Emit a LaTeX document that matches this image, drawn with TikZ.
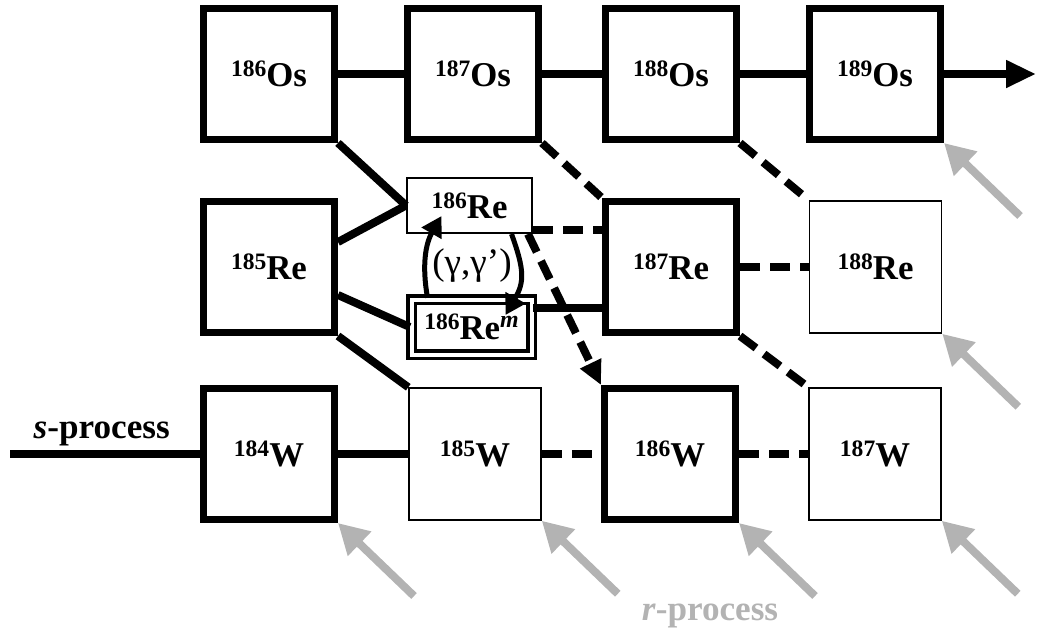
\documentclass[tikz,border=0pt]{standalone}
\usepackage{fontspec}
\setmainfont{Liberation Serif}
\usepackage{tikz}
\usetikzlibrary{calc, arrows.meta}
\definecolor{nuGray}{RGB}{179, 179, 179}
\newcommand{\iso}[2]{\raisebox{2.8pt}{\fontsize{6.7}{7}\selectfont #1}#2}
\tikzset{
    base/.style={
        font=\fontsize{9.9}{11.8}\selectfont\bfseries,
        align=center,
        inner sep=0pt
    },
    stable/.style={
        base,
        rectangle,
        draw=black,
        line width=0.07cm,
        fill=white,
        minimum size=1.31cm
    },
    unstable/.style={
        base,
        rectangle,
        draw=black,
        line width=0.015cm,
        fill=white,
        minimum size=1.32cm
    },
    level/.style={
        base,
        rectangle,
        draw=black,
        line width=0.02cm,
        fill=white,
        minimum width=1.25cm,
        minimum height=0.55cm
    },
    isomer/.style={
        base,
        rectangle,
        draw=black,
        line width=0.035cm,
        double=white,
        double distance=0.04cm,
        fill=white,
        minimum width=1.20cm,
        minimum height=0.55cm
    },
    flow/.style={
        line width=0.08cm,
        color=black
    },
    branch/.style={
        flow,
        dash pattern=on 0.2cm off 0.1cm
    },
    rflow/.style={
        -{Triangle[length=0.3cm, width=0.32cm]},
        line width=0.08cm,
        color=nuGray
    },
    excite/.style={
        -{Triangle[length=0.2cm, width=0.22cm]},
        line width=0.05cm
    },
    proclabel/.style={
        font=\fontsize{10}{12}\selectfont\bfseries,
        inner sep=0pt
    }
}

\begin{document}
\begin{tikzpicture}
  \useasboundingbox (0,0) rectangle (10.37,6.34);

  % Os row
  \node[stable] (Os186) at (2.69,5.60) {\iso{186}{Os}};
  \node[stable] (Os187) at (4.73,5.60) {\iso{187}{Os}};
  \node[stable] (Os188) at (6.71,5.60) {\iso{188}{Os}};
  \node[stable] (Os189) at (8.75,5.60) {\iso{189}{Os}};

  % Re row
  \node[stable] (Re185) at (2.69,3.67) {\iso{185}{Re}};
  \node[level] (Re186) at (4.695,4.285) {\iso{186}{Re}};
  \node[isomer] (Rem186) at (4.715,3.07) {\iso{186}{Re}\raisebox{3.4pt}{\fontsize{6.8}{7}\selectfont\itshape m}};
  \node[stable] (Re187) at (6.71,3.67) {\iso{187}{Re}};
  \node[unstable] (Re188) at (8.755,3.67) {\iso{188}{Re}};

  % W row
  \node[stable] (W184) at (2.69,1.80) {\iso{184}{W}};
  \node[unstable] (W185) at (4.75,1.80) {\iso{185}{W}};
  \node[stable] (W186) at (6.70,1.80) {\iso{186}{W}};
  \node[unstable] (W187) at (8.75,1.80) {\iso{187}{W}};

  % s-process path
  \coordinate (sstart) at (0.10,1.80);
  \coordinate (osend) at (10.36,5.60);
  \draw[flow] (sstart) -- (W184);
  \draw[flow] (W184) -- (W185);
  \draw[flow] (Re185.south east) -- (W185.north west);
  \draw[flow] ([yshift=0.25cm]Re185.east) -- (Re186.west);
  \draw[flow] ([yshift=-0.28cm]Re185.east) -- (Rem186.west);
  \draw[flow] (Os186.south east) -- (Re186.west);
  \draw[flow] ([yshift=0.19cm]Rem186.east) -- ([yshift=0.19cm]Rem186.east -| Re187.west);
  \draw[flow] (Os186) -- (Os187);
  \draw[flow] (Os187) -- (Os188);
  \draw[flow] (Os188) -- (Os189);
  \draw[flow, -{Triangle[length=0.3cm, width=0.26cm]}] (Os189) -- (osend);

  % Weak branchings
  \draw[branch] ([yshift=0.04cm]Re186.south east) -- ([yshift=0.04cm]Re186.south east -| Re187.west);
  \draw[branch, -{Triangle[length=0.24cm, width=0.22cm]}] ([xshift=-0.05cm]Re186.south east) -- (W186.north west);
  \draw[branch] (Os187.south east) -- (Re187.north west);
  \draw[branch] (Os188.south east) -- (Re188.north west);
  \draw[branch] (Re187) -- (Re188);
  \draw[branch] (Re187.south east) -- (W187.north west);
  \draw[branch] (W185) -- (W186);
  \draw[branch] (W186) -- (W187);

  % Photo-excitation
  \draw[excite] ([xshift=-0.44cm]Rem186.north) to[out=100, in=240] ([shift={(-0.28,0.18)}]Re186.south);
  \draw[excite] ([xshift=0.42cm]Re186.south) to[out=-70, in=60, looseness=1.2] ([shift={(0.34,0.12)}]Rem186.center);
  \node[base, font=\fontsize{10.6}{12.6}\selectfont] (gamma) at (4.72,3.68) {(γ,γ’)};

  % r-process feeding
  \foreach \n in {Os189, Re188, W184, W185, W186, W187} {
    \coordinate (r\n) at ($(\n.south east)+(0.76,-0.73)$);
    \draw[rflow] (r\n) -- (\n.south east);
  }

  \node[proclabel, anchor=base west] (slabel) at (0.33,1.96) {\textit{s}-process};
  \node[proclabel, anchor=base, text=nuGray] (rlabel) at (7.10,0.14) {\textit{r}-process};
\end{tikzpicture}
\end{document}
